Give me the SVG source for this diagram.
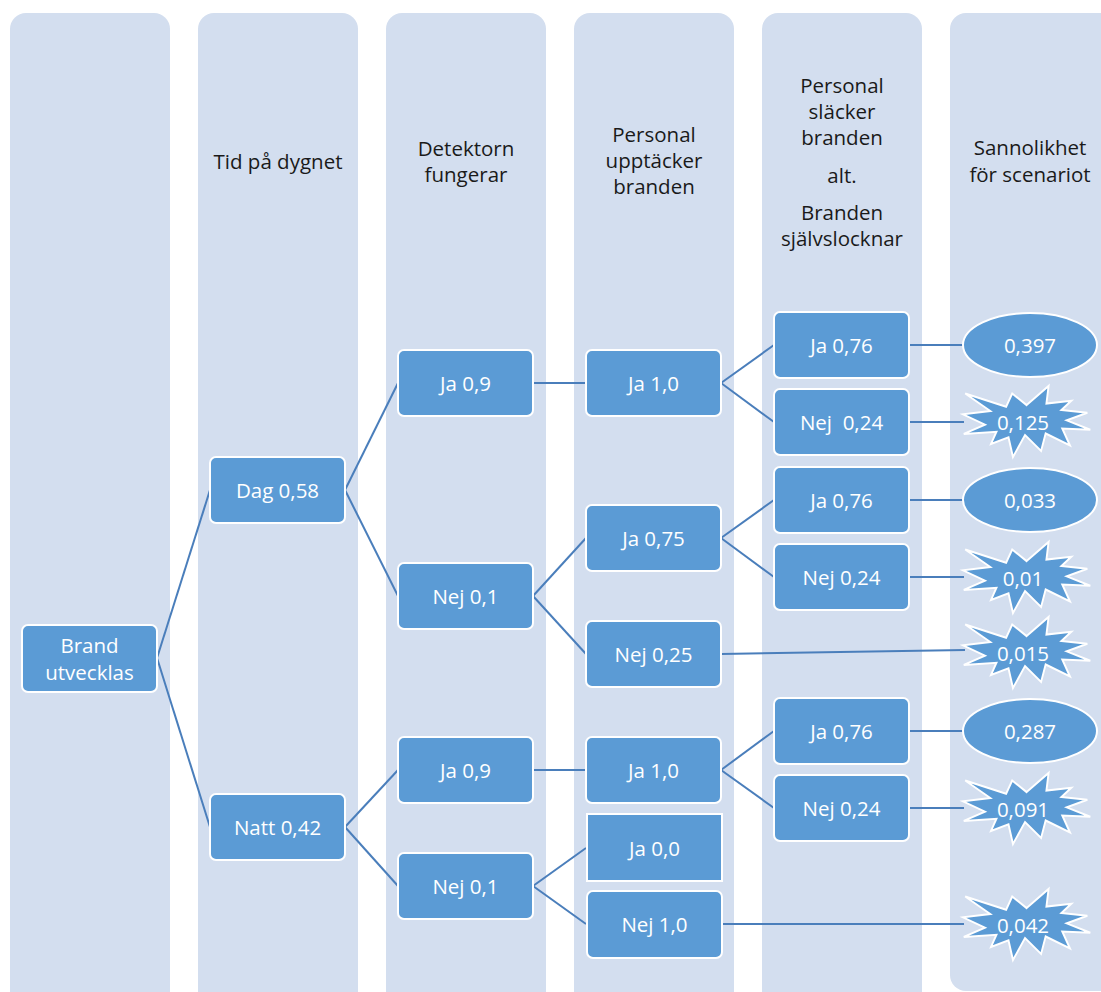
<svg xmlns="http://www.w3.org/2000/svg" xmlns:xlink="http://www.w3.org/1999/xlink" width="1101" height="992" viewBox="0 0 1101 992">
<style>
.col{fill:#d3deef;}
.box{fill:#5b9bd5;stroke:#ffffff;stroke-width:2;}
.bt{font-family:"Open Sans","Noto Sans",sans-serif;font-size:20.5px;fill:#ffffff;text-anchor:middle;dominant-baseline:central;}
.ht{font-family:"Open Sans","Noto Sans",sans-serif;font-size:20.5px;fill:#1a1a1a;text-anchor:middle;dominant-baseline:central;}
.con line{stroke:#4a7ebb;stroke-width:2;}
</style>
<defs>
<polygon id="star" points="67,19.1 90.1,0 87.8,17.5 114,14.7 103.6,24 130.9,26.7 109.2,34.4 134,43.7 104.5,42.5 112.6,59.5 87,47.5 82.2,64.9 65.3,49.1 52.6,71 47.9,51.4 29.5,57.9 35.2,45.8 0.8,47.9 23.1,38.7 0,28.3 28.7,25 2.3,7.5 45.4,20.8 51.8,7.5" fill="#5b9bd5" stroke="#ffffff" stroke-width="2"/>
</defs>
<rect width="1101" height="992" fill="#ffffff"/>
<g id="columns">
<rect class="col" x="10" y="13" width="160" height="995" rx="16"/>
<rect class="col" x="198" y="13" width="160" height="995" rx="16"/>
<rect class="col" x="386" y="13" width="160" height="995" rx="16"/>
<rect class="col" x="574" y="13" width="160" height="995" rx="16"/>
<rect class="col" x="762" y="13" width="160" height="995" rx="16"/>
<rect class="col" x="950" y="13" width="170" height="978" rx="16"/>
</g>
<g id="headers">
<text class="ht" x="278" y="161">Tid på dygnet</text>
<text class="ht" x="466" y="148">Detektorn</text>
<text class="ht" x="466" y="174">fungerar</text>
<text class="ht" x="654" y="134">Personal</text>
<text class="ht" x="654" y="160">upptäcker</text>
<text class="ht" x="654" y="186">branden</text>
<text class="ht" x="842" y="85">Personal</text>
<text class="ht" x="842" y="111">släcker</text>
<text class="ht" x="842" y="137">branden</text>
<text class="ht" x="842" y="175">alt.</text>
<text class="ht" x="842" y="212">Branden</text>
<text class="ht" x="842" y="238">självslocknar</text>
<text class="ht" x="1030" y="147">Sannolikhet</text>
<text class="ht" x="1030" y="174">för scenariot</text>
</g>
<g id="connectors" class="con">
<line x1="157" y1="658" x2="210" y2="490"/>
<line x1="157" y1="658" x2="210" y2="827"/>
<line x1="345" y1="490" x2="398" y2="383"/>
<line x1="345" y1="490" x2="398" y2="596"/>
<line x1="533" y1="383" x2="586" y2="383"/>
<line x1="721" y1="383" x2="774" y2="345"/>
<line x1="721" y1="383" x2="774" y2="422"/>
<line x1="533" y1="596" x2="586" y2="538"/>
<line x1="533" y1="596" x2="586" y2="654"/>
<line x1="721" y1="538" x2="774" y2="500"/>
<line x1="721" y1="538" x2="774" y2="577"/>
<line x1="721" y1="654" x2="965" y2="650"/>
<line x1="909" y1="345" x2="964" y2="345"/>
<line x1="909" y1="422" x2="964" y2="422"/>
<line x1="909" y1="500" x2="964" y2="500"/>
<line x1="909" y1="577" x2="964" y2="577"/>
<line x1="345" y1="827" x2="398" y2="770"/>
<line x1="345" y1="827" x2="398" y2="886"/>
<line x1="533" y1="770" x2="586" y2="770"/>
<line x1="721" y1="770" x2="774" y2="731"/>
<line x1="721" y1="770" x2="774" y2="808"/>
<line x1="533" y1="886" x2="586" y2="848"/>
<line x1="533" y1="886" x2="586" y2="924"/>
<line x1="721" y1="924" x2="964" y2="924"/>
<line x1="909" y1="731" x2="964" y2="731"/>
<line x1="909" y1="808" x2="964" y2="808"/>
</g>
<g id="n-brand"><rect class="box" x="22" y="625" width="135" height="67" rx="6"/><text class="bt" x="89.5" y="645">Brand</text><text class="bt" x="89.5" y="672">utvecklas</text></g>
<g id="n-dag"><rect class="box" x="210" y="457" width="135" height="66" rx="6"/><text class="bt" x="277.5" y="490">Dag 0,58</text></g>
<g id="n-natt"><rect class="box" x="210" y="794" width="135" height="66" rx="6"/><text class="bt" x="277.5" y="827">Natt 0,42</text></g>
<g id="n-det-ja1"><rect class="box" x="398" y="350" width="135" height="66" rx="6"/><text class="bt" x="465.5" y="383">Ja 0,9</text></g>
<g id="n-det-nej1"><rect class="box" x="398" y="563" width="135" height="66" rx="6"/><text class="bt" x="465.5" y="596">Nej 0,1</text></g>
<g id="n-det-ja2"><rect class="box" x="398" y="737" width="135" height="66" rx="6"/><text class="bt" x="465.5" y="770">Ja 0,9</text></g>
<g id="n-det-nej2"><rect class="box" x="398" y="853" width="135" height="66" rx="6"/><text class="bt" x="465.5" y="886">Nej 0,1</text></g>
<g id="n-per-ja1"><rect class="box" x="586" y="350" width="135" height="66" rx="6"/><text class="bt" x="653.5" y="383">Ja 1,0</text></g>
<g id="n-per-ja2"><rect class="box" x="586" y="505" width="135" height="66" rx="6"/><text class="bt" x="653.5" y="538">Ja 0,75</text></g>
<g id="n-per-nej2"><rect class="box" x="586" y="621" width="135" height="66" rx="6"/><text class="bt" x="653.5" y="654">Nej 0,25</text></g>
<g id="n-per-ja3"><rect class="box" x="586" y="737" width="135" height="66" rx="6"/><text class="bt" x="653.5" y="770">Ja 1,0</text></g>
<g id="n-per-ja4"><rect class="box" x="587" y="814" width="135" height="67"/><text class="bt" x="654.5" y="848">Ja 0,0</text></g>
<g id="n-per-nej4"><rect class="box" x="587" y="891" width="135" height="67" rx="6"/><text class="bt" x="654.5" y="924">Nej 1,0</text></g>
<g id="n-sl-ja1"><rect class="box" x="774" y="312" width="135" height="66" rx="6"/><text class="bt" x="841.5" y="345">Ja 0,76</text></g>
<g id="n-sl-nej1"><rect class="box" x="774" y="389" width="135" height="66" rx="6"/><text class="bt" x="841.5" y="422" xml:space="preserve">Nej  0,24</text></g>
<g id="n-sl-ja2"><rect class="box" x="774" y="467" width="135" height="66" rx="6"/><text class="bt" x="841.5" y="500">Ja 0,76</text></g>
<g id="n-sl-nej2"><rect class="box" x="774" y="544" width="135" height="66" rx="6"/><text class="bt" x="841.5" y="577">Nej 0,24</text></g>
<g id="n-sl-ja3"><rect class="box" x="774" y="698" width="135" height="66" rx="6"/><text class="bt" x="841.5" y="731">Ja 0,76</text></g>
<g id="n-sl-nej3"><rect class="box" x="774" y="775" width="135" height="66" rx="6"/><text class="bt" x="841.5" y="808">Nej 0,24</text></g>
<g id="r-0397"><ellipse cx="1030" cy="345" rx="67" ry="32" fill="#5b9bd5" stroke="#ffffff" stroke-width="2"/><text class="bt" x="1030" y="345">0,397</text></g>
<g id="r-0033"><ellipse cx="1030" cy="500" rx="67" ry="32" fill="#5b9bd5" stroke="#ffffff" stroke-width="2"/><text class="bt" x="1030" y="500">0,033</text></g>
<g id="r-0287"><ellipse cx="1030" cy="731" rx="67" ry="32" fill="#5b9bd5" stroke="#ffffff" stroke-width="2"/><text class="bt" x="1030" y="731">0,287</text></g>
<g id="r-0125"><use xlink:href="#star" transform="translate(963,386) scale(0.95,1)"/><text class="bt" x="1023" y="422">0,125</text></g>
<g id="r-001"><use xlink:href="#star" transform="translate(963,542) scale(0.95,1)"/><text class="bt" x="1023" y="578">0,01</text></g>
<g id="r-0015"><use xlink:href="#star" transform="translate(963,617) scale(0.95,1)"/><text class="bt" x="1023" y="653">0,015</text></g>
<g id="r-0091"><use xlink:href="#star" transform="translate(963,773) scale(0.95,1)"/><text class="bt" x="1023" y="809">0,091</text></g>
<g id="r-0042"><use xlink:href="#star" transform="translate(963,889) scale(0.95,1)"/><text class="bt" x="1023" y="925">0,042</text></g>
</svg>
